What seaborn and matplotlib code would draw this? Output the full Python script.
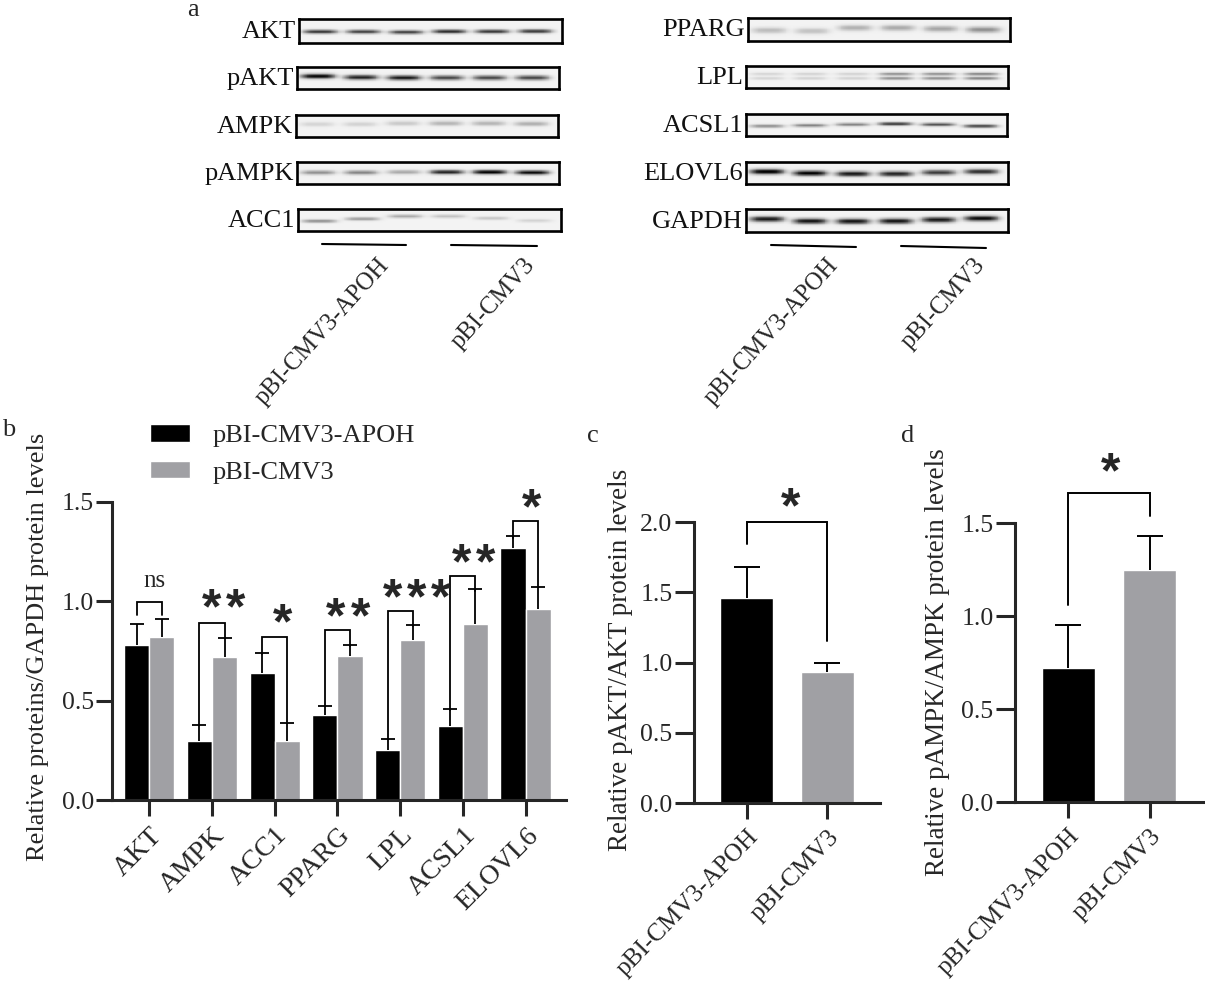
import numpy as np
import pandas as pd
import seaborn as sns
import matplotlib.pyplot as plt
from matplotlib.transforms import ScaledTranslation

W, H = 1205, 988
BLACK = '#000000'
GREY = '#a0a0a4'
SERIES = ['pBI-CMV3-APOH', 'pBI-CMV3']

# panel b
genes = ['AKT', 'AMPK', 'ACC1', 'PPARG', 'LPL', 'ACSL1', 'ELOVL6']
apoh_mean = [0.78, 0.295, 0.64, 0.43, 0.25, 0.375, 1.27]
apoh_top = [0.885, 0.38, 0.74, 0.475, 0.305, 0.46, 1.33]
cmv_mean = [0.82, 0.72, 0.295, 0.725, 0.805, 0.885, 0.96]
cmv_top = [0.91, 0.815, 0.39, 0.78, 0.88, 1.06, 1.07]
br_top = [0.995, 0.893, 0.82, 0.855, 0.95, 1.128, 1.403]
br_left = [0.93, 0.377, 0.737, 0.473, 0.305, 0.452, 1.32]
br_right = [0.93, 0.813, 0.394, 0.774, 0.875, 1.052, 1.072]
sig_marks = ['ns', '**', '*', '**', '***', '**', '*']
sig_x = [0.08, 1.18, 2.12, 3.17, 4.26, 5.17, 6.09]
sig_y = [1.10, 1.01, 0.934, 0.967, 1.064, 1.24, 1.517]

# panel c and d
c_mean = [1.46, 0.93]
c_top = [1.68, 0.995]
c_bracket = [2.0, 1.84, 1.15]
c_star = [0.55, 2.17]
d_mean = [0.72, 1.245]
d_top = [0.95, 1.43]
d_bracket = [1.66, 1.06, 1.54]
d_star = [0.52, 1.82]

# panel a: band darkness and band position per lane
blot_names = ['AKT', 'pAKT', 'AMPK', 'pAMPK', 'ACC1',
              'PPARG', 'LPL', 'ACSL1', 'ELOVL6', 'GAPDH']
blot_boxes = [(299, 19, 562, 43), (297, 67, 559, 89), (296, 115, 558, 137),
              (297, 162, 559, 184), (298, 209, 561, 231),
              (748, 18, 1010, 41), (746, 66, 1008, 88), (746, 114, 1007, 136),
              (746, 162, 1008, 184), (746, 209, 1008, 232)]
blot_dark = [[.75, .7, .7, .8, .75, .75],
             [.95, .85, .9, .7, .7, .7],
             [.12, .13, .17, .25, .25, .27],
             [.4, .45, .3, .85, 1, .95],
             [.4, .35, .3, .2, .17, .13],
             [.22, .2, .27, .3, .32, .4],
             [.12, .13, .13, .4, .4, .45],
             [.4, .45, .45, .75, .65, .7],
             [1, 1, .9, .85, .75, .8],
             [.9, .9, .9, .9, .9, .95]]
blot_pos = [[.53, .53, .55, .52, .52, .51],
            [.42, .47, .49, .49, .49, .49],
            [.42, .42, .38, .38, .38, .40],
            [.48, .48, .46, .46, .46, .48],
            [.55, .45, .33, .33, .42, .53],
            [.54, .57, .43, .43, .47, .51],
            [.36, .36, .36, .36, .36, .36],
            [.55, .52, .48, .45, .48, .55],
            [.44, .51, .54, .54, .48, .44],
            [.44, .53, .54, .53, .47, .41]]
blot_thick = [.085, .11, .11, .1, .08, .13, .07, .08, .12, .12]

sns.set_theme(style='ticks', rc={'axes.linewidth': 2.2, 'xtick.major.width': 2.2,
                                 'ytick.major.width': 2.2, 'xtick.major.size': 11.5,
                                 'ytick.major.size': 11.5})
plt.rcParams['font.family'] = ['Liberation Serif', 'DejaVu Serif']

fig = plt.figure(figsize=(W / 100, H / 100), dpi=100)


def px_axes(l, t, r, b):
    return fig.add_axes([l / W, 1 - b / H, (r - l) / W, (b - t) / H])


def draw_blot(box, dark, pos, thick, double=False):
    ax = px_axes(*box)
    yy, xx = np.mgrid[0:1:60j, 0:1:300j]
    grid = np.zeros_like(xx)
    for k in range(6):
        cx = 0.08 + 0.164 * k
        shape = np.exp(-((xx - cx) / 0.065) ** 4)
        grid += dark[k] * shape * np.exp(-((yy - pos[k]) / thick) ** 2)
        if double:
            grid += dark[k] * shape * np.exp(-((yy - pos[k] - 0.2) / thick) ** 2)
    sns.heatmap(0.95 - 0.95 * np.clip(grid, 0, 1), ax=ax, cmap='gray', vmin=0, vmax=1,
                cbar=False, xticklabels=False, yticklabels=False)
    ax.tick_params(length=0)
    for s in ax.spines.values():
        s.set_visible(True)
        s.set_linewidth(1.9)
        s.set_color('black')
    return ax


def upper_error(ax, x, mean, top, cap, lw):
    mean, top = np.array(mean), np.array(top)
    _, caps, _ = ax.errorbar(x, mean, yerr=[np.zeros(len(mean)), top - mean], fmt='none',
                             ecolor='black', elinewidth=lw, capsize=cap, capthick=lw)
    caps[0].set_visible(False)


def stars(ax, x, y, n):
    for k in range(n):
        ax.annotate('*', (x, y), xytext=((k - (n - 1) / 2) * 17.3, -17.5),
                    textcoords='offset points', ha='center', va='baseline',
                    family='Liberation Sans', weight='bold', fontsize=36, annotation_clip=False)


for i, name in enumerate(blot_names):
    draw_blot(blot_boxes[i], blot_dark[i], blot_pos[i], blot_thick[i], name == 'LPL')
    fig.text((blot_boxes[i][0] - 3) / W, 1 - ((blot_boxes[i][1] + blot_boxes[i][3]) / 2 + 1) / H,
             name, ha='right', va='center', fontsize=19, color='#111111')


def style_axis(ax, ylim, yticks, labels, ylabel, label_px, rot_fs, lab_fs, rot=45, x_shift=0, tick_len=11.5):
    ax.set_ylim(*ylim)
    ax.set_yticks(yticks)
    ax.set_yticklabels(['%.1f' % t for t in yticks], fontsize=18.5)
    ax.set_xticks(range(len(labels)))
    ax.set_xticklabels(labels, rotation=rot, ha='right', rotation_mode='anchor', fontsize=rot_fs)
    shift = ScaledTranslation(x_shift / 100, 0, fig.dpi_scale_trans)
    for lab in ax.get_xticklabels():
        lab.set_transform(lab.get_transform() + shift)
    ax.set_xlabel('')
    ax.set_ylabel(ylabel, fontsize=lab_fs, va='center')
    bb = ax.get_position()
    ax.yaxis.set_label_coords((label_px[0] / W - bb.x0) / bb.width,
                              ((1 - label_px[1] / H) - bb.y0) / bb.height)
    ax.tick_params(axis='x', pad=5)
    ax.tick_params(axis='y', pad=1.5, length=tick_len)
    sns.despine(ax=ax)
    ax.patch.set_alpha(0)


# panel b
ax_b = px_axes(112, 502, 566, 800)
df_b = pd.DataFrame({'gene': genes * 2,
                     'level': apoh_mean + cmv_mean,
                     'group': [SERIES[0]] * 7 + [SERIES[1]] * 7})
sns.barplot(data=df_b, x='gene', y='level', hue='group', palette=[BLACK, GREY],
            saturation=1, width=0.8, gap=0, errorbar=None, ax=ax_b)
ax_b.set_xlim(-0.595, 6.645)
pos = np.arange(len(genes))
upper_error(ax_b, pos - 0.2, apoh_mean, apoh_top, 4.8, 1.3)
upper_error(ax_b, pos + 0.2, cmv_mean, cmv_top, 4.8, 1.3)
for i in range(7):
    ax_b.plot([i - 0.2, i - 0.2, i + 0.2, i + 0.2],
              [br_left[i], br_top[i], br_top[i], br_right[i]],
              color='black', lw=1.3, clip_on=False, solid_joinstyle='miter')
    if sig_marks[i] == 'ns':
        ax_b.text(sig_x[i], sig_y[i], 'ns', ha='center', va='center', fontsize=18)
    else:
        stars(ax_b, sig_x[i], sig_y[i], len(sig_marks[i]))
style_axis(ax_b, (0, 1.5), [0, 0.5, 1.0, 1.5], genes,
           'Relative proteins/GAPDH protein levels', (38, 647), 20, 19)
handles, leg_labels = ax_b.get_legend_handles_labels()
ax_b.legend(handles, leg_labels, loc='upper left', bbox_to_anchor=(150 / W, 1 - 424 / H),
            bbox_transform=fig.transFigure, frameon=False, fontsize=19,
            handlelength=1.5, handleheight=0.65, labelspacing=0.52, handletextpad=0.87,
            borderpad=0, borderaxespad=0)

# panels c and d
for box, mean, top, br, star, ylim, yt, ylab, lab_px in [
        ((694, 522, 880, 803), c_mean, c_top, c_bracket, c_star, (0, 2), [0, .5, 1., 1.5, 2.],
         'Relative pAKT/AKT protein levels', (621, 660)),
        ((1015, 523, 1203, 802), d_mean, d_top, d_bracket, d_star, (0, 1.5), [0, .5, 1., 1.5],
         'Relative pAMPK/AMPK protein levels', (938, 662))]:
    ax = px_axes(*box)
    df = pd.DataFrame({'group': SERIES, 'level': mean})
    sns.barplot(data=df, x='group', y='level', hue='group', palette=[BLACK, GREY],
                saturation=1, width=0.66, errorbar=None, legend=False, ax=ax)
    ax.set_xlim(-0.66, 1.66)
    upper_error(ax, [0, 1], mean, top, 9.5, 1.4)
    ax.plot([0, 0, 1, 1], [br[1], br[0], br[0], br[2]], color='black', lw=1.4,
            clip_on=False, solid_joinstyle='miter')
    stars(ax, star[0], star[1], 1)
    style_axis(ax, ylim, yt, SERIES, ylab, lab_px, 18.2, 19.5, rot=46, x_shift=14, tick_len=14)

# annotation layer: panel letters, sample bars and rotated sample names
over = fig.add_axes([0, 0, 1, 1])
over.set_xlim(0, W)
over.set_ylim(H, 0)
over.axis('off')
for letter, x, y in [('a', 187, 10), ('b', 2, 430), ('c', 587, 436), ('d', 901, 436)]:
    over.text(x, y, letter, fontsize=19, va='center', ha='left')
for x0, x1, y0, y1 in [(322, 406, 244, 245), (451, 537, 245, 246),
                       (771, 856, 245, 247), (901, 986, 246, 248)]:
    over.plot([x0, x1], [y0, y1], color='black', lw=1.5)
for x, y, text in [(377, 254, SERIES[0]), (523, 254, SERIES[1]),
                   (826, 254, SERIES[0]), (973, 254, SERIES[1])]:
    over.text(x, y, text, rotation=48, ha='right', va='top', rotation_mode='anchor', fontsize=17.7)

fig.savefig('out.png', dpi=100)
